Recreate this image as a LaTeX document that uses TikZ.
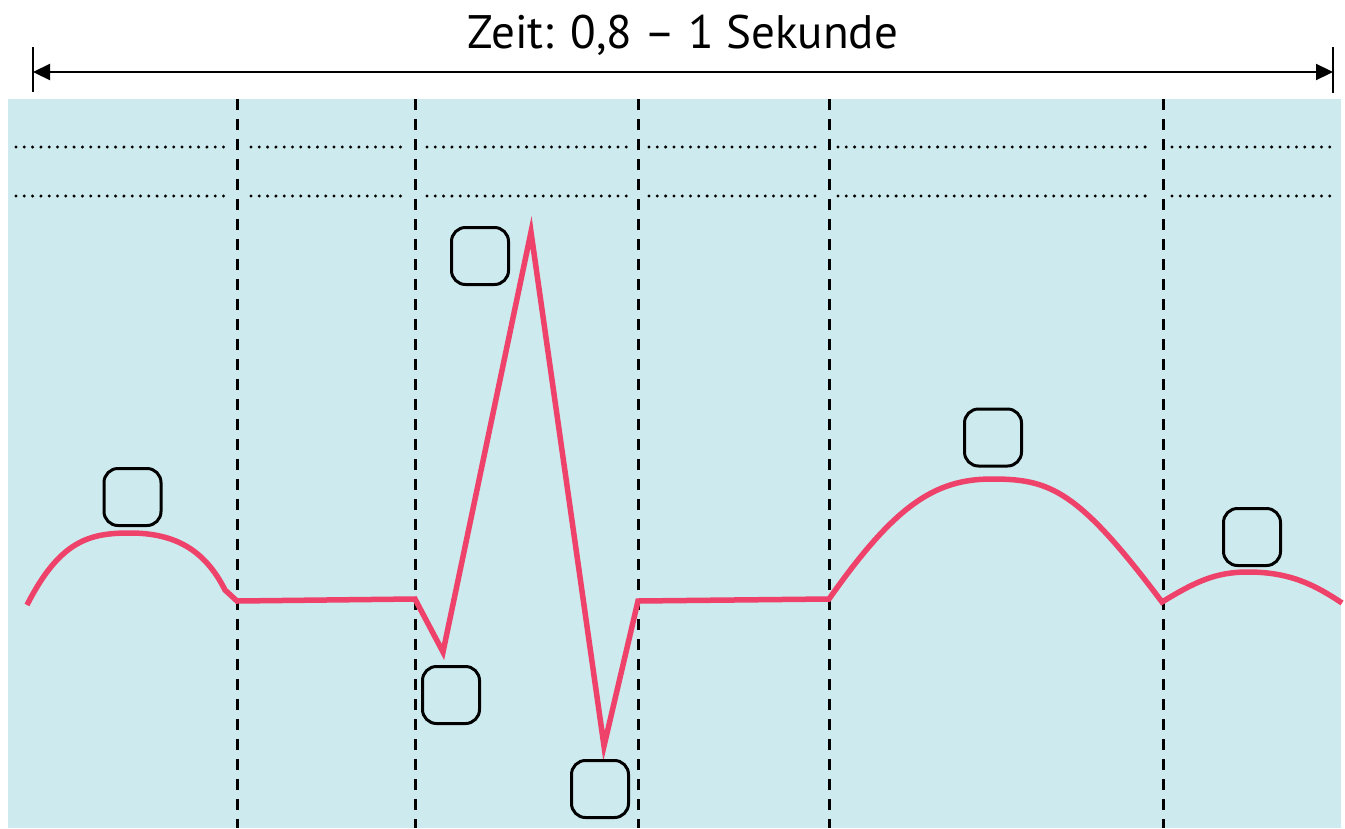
\documentclass[tikz,border=0pt]{standalone}
\usepackage{fontspec}
\setmainfont{PT Sans}
\usetikzlibrary{arrows.meta}
\definecolor{bgcyan}{RGB}{205,235,238}
\definecolor{ecgred}{RGB}{239,66,106}
\tikzset{
  labelbox/.style={draw=black, line width=3pt, rounded corners=14pt, minimum width=57pt, minimum height=57pt, inner sep=0pt},
  divider/.style={draw=black, line width=3pt, dash pattern=on 11pt off 9pt},
  gridrow/.style={draw=black, line width=3.3pt, line cap=round, dash pattern=on 0pt off 8.3pt},
  wave/.style={draw=ecgred, line width=5.5pt, line join=miter},
  tick/.style={draw=black, line width=2.2pt}
}
\begin{document}
\begin{tikzpicture}[x=1pt,y=-1pt]
\useasboundingbox (0,0) rectangle (1345,828);
\fill[white] (0,0) rectangle (1345,828);
\fill[bgcyan] (8,99) rectangle (1341,828);

% title and span arrow
\node[anchor=base, font=\fontsize{47}{56}\selectfont, inner sep=0pt] (title) at (683,48) {Zeit: 0,8 – 1 Sekunde};
\coordinate (la) at (33,72);
\coordinate (ra) at (1333,72);
\draw[tick] (33,47) -- (33,92);
\draw[tick] (1333,47) -- (1333,93);
\draw[tick, {Triangle[length=17pt,width=16pt]}-{Triangle[length=17pt,width=16pt]}] (la) -- (ra);

% dotted rows
\foreach \a/\b in {16/229, 251/403, 427/630, 649/818, 838/1152, 1172/1330}{
  \draw[gridrow] (\a,147) -- (\b,147);
  \draw[gridrow] (\a,196) -- (\b,196);
}

% dashed dividers
\foreach \x in {237,415,638,829,1163}{
  \draw[divider] (\x,99) -- (\x,828);
}

% ECG wave
\draw[wave] (27,605) .. controls (60,540) and (90,533) .. (130,533)
  .. controls (175,533) and (205,550) .. (225,590) -- (237,601)
  -- (415,599) -- (443,652) -- (531,232) -- (604,746) -- (638,601)
  -- (829,599) .. controls (895,505) and (935,479) .. (992,479)
  .. controls (1050,479) and (1078,490) .. (1162,602)
  .. controls (1195,582) and (1215,572) .. (1248,572)
  .. controls (1290,572) and (1315,585) .. (1342,603);

% label boxes
\node[labelbox] (P) at (132.5,497) {};
\node[labelbox] (R) at (480,256) {};
\node[labelbox] (Q) at (451,695) {};
\node[labelbox] (S) at (600,789) {};
\node[labelbox] (T) at (993,437.5) {};
\node[labelbox] (U) at (1252,537) {};
\end{tikzpicture}
\end{document}
